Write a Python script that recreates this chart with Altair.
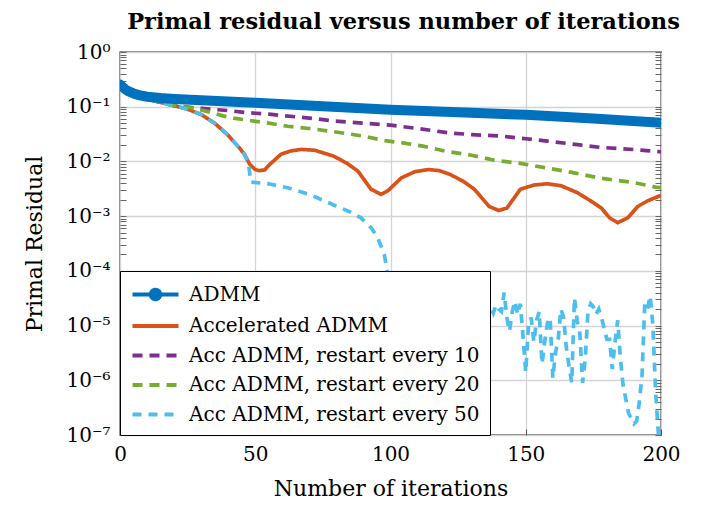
import altair as alt
import pandas as pd

FONT = "DejaVu Serif"

SERIES = ["ADMM", "Accelerated ADMM", "Acc ADMM, restart every 10",
          "Acc ADMM, restart every 20", "Acc ADMM, restart every 50"]
COLORS = ["#0072BD", "#D95319", "#7E2F8E", "#77AC30", "#4DBEEE"]

# ADMM
admm_x = [0, 1, 2, 3, 5, 7, 10, 15, 20, 30, 40, 50, 75, 100, 125, 150, 175, 200]
admm_y = [0.255, 0.228, 0.208, 0.193, 0.175, 0.163, 0.152, 0.144, 0.139, 0.131,
          0.124, 0.118, 0.102, 0.088, 0.079, 0.071, 0.061, 0.051]

# Accelerated ADMM
acc_x = [0, 2, 5, 10, 15, 20, 25, 30, 35, 40, 44, 46, 48, 50, 51.5, 53.5, 55, 59.5,
         63, 67, 72, 79, 84, 88, 92.8, 96.5, 99, 104, 109, 114, 118, 122, 127, 131,
         136.5, 140, 143, 148, 153, 158, 163, 169, 174, 178, 181, 184, 187.7, 191.4,
         195, 200]
acc_y = [0.25, 0.2, 0.17, 0.14, 0.12, 0.105, 0.09, 0.072, 0.05, 0.03, 0.018, 0.0135,
         0.0088, 0.0071, 0.0068, 0.0070, 0.0085, 0.0135, 0.0155, 0.0166, 0.016, 0.0125,
         0.0092, 0.0066, 0.0031, 0.0025, 0.0029, 0.005, 0.0065, 0.0071, 0.0068, 0.0058,
         0.0043, 0.0031, 0.0015, 0.00127, 0.0014, 0.0031, 0.0037, 0.0039, 0.0036,
         0.0027, 0.0019, 0.0014, 0.00093, 0.00076, 0.00093, 0.0015, 0.0019, 0.0024]

# restart every 10
r10_x = [0, 5, 10, 15, 20, 25, 30, 40, 46, 50, 55, 60, 70, 79, 90, 100, 110, 122,
         130, 141, 150, 158, 170, 178, 190, 200]
r10_y = [0.25, 0.17, 0.14, 0.12, 0.105, 0.098, 0.093, 0.085, 0.079, 0.076, 0.073,
         0.069, 0.062, 0.055, 0.05, 0.046, 0.04, 0.033, 0.031, 0.029, 0.026, 0.0235,
         0.02, 0.018, 0.0165, 0.015]

# restart every 20
r20_x = [0, 5, 10, 15, 20, 26, 30, 34, 38, 42, 47, 55, 62, 70, 79, 90, 98, 104, 112,
         120, 130, 138, 148, 157, 167, 178, 190, 198, 200]
r20_y = [0.25, 0.17, 0.14, 0.12, 0.105, 0.096, 0.087, 0.078, 0.068, 0.062, 0.057,
         0.05, 0.044, 0.04, 0.035, 0.029, 0.024, 0.022, 0.019, 0.0155, 0.013, 0.0106,
         0.0092, 0.0077, 0.0063, 0.0049, 0.0041, 0.0034, 0.0033]

# restart every 50
r50_x = [0, 2, 5, 10, 15, 20, 25, 30, 35, 40, 44, 46, 47.5, 48.3, 55, 62, 70, 79, 85,
         89, 93, 95.3, 97.7, 99, 100] + list(range(101, 201))
r50_y = [0.25, 0.2, 0.17, 0.14, 0.12, 0.105, 0.09, 0.072, 0.05, 0.03, 0.018, 0.0135,
         0.0095, 0.0042, 0.0039, 0.0033, 0.0025, 0.0016, 0.0012, 0.00094, 0.0006,
         0.0004, 0.0002, 8.7e-5, 4e-5,
         # 101-134
         2.0e-5, 1.5e-5, 2.4e-5, 1.3e-5, 1.8e-5, 2.6e-5, 1.2e-5, 2.0e-5, 1.6e-5, 2.8e-5,
         1.4e-5, 1.9e-5, 2.3e-5, 1.1e-5, 1.7e-5, 2.5e-5, 1.5e-5, 2.1e-5, 1.3e-5, 2.7e-5,
         1.6e-5, 1.9e-5, 1.2e-5, 2.2e-5, 1.8e-5, 2.6e-5, 1.4e-5, 2.0e-5, 1.6e-5, 2.4e-5,
         1.3e-5, 2.1e-5, 1.7e-5, 2.5e-5,
         # 135-154
         2.4e-5, 1.9e-5, 2.2e-5, 1.7e-5, 2.4e-5, 2.0e-5, 1.8e-5, 4.0e-5, 1.4e-5, 7.9e-6,
         1.8e-5, 2.8e-5, 1.6e-5, 2.5e-5, 6.3e-6, 1.4e-6, 1.0e-5, 1.4e-5, 5.0e-6, 1.25e-5,
         # 155-174
         1.8e-5, 2.0e-6, 5.0e-6, 1.1e-5, 1.4e-5, 1.1e-6, 3.2e-6, 5.6e-6, 2.0e-5, 1.4e-5,
         4.0e-6, 1.8e-6, 9.0e-7, 3.2e-5, 1.25e-5, 7.1e-6, 9.0e-7, 2.5e-6, 1.8e-5, 2.5e-5,
         # 175-200
         2.2e-5, 1.6e-5, 2.0e-5, 1.4e-5, 8.9e-6, 5.6e-6, 5.6e-6, 1.6e-6, 5.0e-6, 1.25e-5,
         2.5e-6, 8.0e-7, 4.5e-7, 2.5e-7, 2.0e-7, 1.6e-7, 1.8e-7, 4.0e-7, 1.25e-6, 2.5e-5,
         2.0e-5, 3.5e-5, 1.0e-5, 6.3e-7, 1.1e-7, 1.05e-7]

Y_MAJOR = [1, 1e-1, 1e-2, 1e-3, 1e-4, 1e-5, 1e-6, 1e-7]
Y_LABELS = ["10⁰", "10⁻¹", "10⁻²", "10⁻³", "10⁻⁴", "10⁻⁵", "10⁻⁶", "10⁻⁷"]
Y_MINOR = [m * d for d in Y_MAJOR[1:] for m in range(2, 10)]
X_TICKS = [0, 50, 100, 150, 200]

rows = []
for name, xs, ys in [(SERIES[1], acc_x, acc_y), (SERIES[2], r10_x, r10_y),
                     (SERIES[3], r20_x, r20_y), (SERIES[4], r50_x, r50_y),
                     (SERIES[0], admm_x, admm_y)]:
    assert len(xs) == len(ys), name
    for a, b in zip(xs, ys):
        rows.append({"series": name, "it": a, "res": b})
df = pd.DataFrame(rows)

is_major = "abs(log(datum.value)/LN10 - round(log(datum.value)/LN10)) < 0.001"
label_arr = "[" + ",".join("'" + s + "'" for s in Y_LABELS) + "]"
label_expr = f"({is_major}) ? {label_arr}[-round(log(datum.value)/LN10)] : ''"

yscale = alt.Scale(type="log", domain=[1e-7, 1], nice=False)
xscale = alt.Scale(domain=[0, 200], nice=False)

LINE_SYM = "M-2,0L2,0"
ADMM_SYM = "M-2,0L2,0M0.42,0A0.42,0.42,0,1,1,-0.42,0A0.42,0.42,0,1,1,0.42,0Z"

legend = alt.Legend(
    title=None, orient="bottom-left", offset=0, padding=10,
    fillColor="white", strokeColor="black", cornerRadius=0,
    labelFont=FONT, labelFontSize=20, labelColor="black", labelLimit=0,
    symbolType=LINE_SYM, symbolSize=529, symbolStrokeWidth=3.8,
    symbolOffset=12, labelOffset=20, rowPadding=5.5, symbolOpacity=1,
)

xaxis = alt.Axis(values=X_TICKS, grid=True, gridColor="#d4d4d4", gridWidth=1.3,
                 domain=False, tickSize=6, offset=-6, tickColor="#555",
                 labelPadding=9, labelFont=FONT, labelFontSize=20,
                 labelColor="black", titleFont=FONT, titleFontSize=22,
                 titleFontWeight="normal", titleColor="black",
                 titlePadding=14, labelFlush=False, title="Number of iterations")

color = alt.Color("series:N", scale=alt.Scale(domain=SERIES, range=COLORS), legend=legend)

others = alt.Chart(df[df.series != "ADMM"]).mark_line(
    clip=True, strokeCap="butt", strokeWidth=3.7).encode(
    x=alt.X("it:Q", scale=xscale, axis=xaxis),
    y=alt.Y("res:Q", scale=yscale, title="Primal Residual",
            axis=alt.Axis(values=Y_MAJOR + Y_MINOR, labelExpr=label_expr,
                          labelOverlap=False, grid=True, gridColor="#d4d4d4",
                          gridWidth=1.3,
                          gridOpacity={"condition": {"test": is_major, "value": 1}, "value": 0},
                          domain=False, tickSize=6, offset=-6, tickColor="#666",
                          labelPadding=10, labelFont=FONT, labelFontSize=20,
                          labelColor="black", titleFont=FONT, titleFontSize=22,
                          titleFontWeight="normal", titleColor="black",
                          titlePadding=19, labelFlush=False)),
    color=color,
    strokeDash=alt.StrokeDash("series:N", scale=alt.Scale(
        domain=SERIES, range=[[1, 0], [1, 0], [10, 7], [10, 7], [9, 7]]), legend=legend),
)

admm = alt.Chart(df[df.series == "ADMM"]).mark_line(
    clip=True, strokeCap="round", strokeJoin="round", strokeWidth=10,
    color=COLORS[0]).encode(
    x=alt.X("it:Q", scale=xscale, axis=xaxis),
    y=alt.Y("res:Q", scale=yscale, title=None,
            axis=alt.Axis(orient="right", values=Y_MAJOR + Y_MINOR, labels=False,
                          grid=False, domain=False, tickSize=6, offset=-6,
                          tickColor="#666", title=None)),
)

# legend symbols (line with a round marker for ADMM); this layer draws no data
legend_pts = alt.Chart(df).transform_filter("false").mark_point(
    filled=True, opacity=1).encode(
    x=alt.X("it:Q", scale=xscale, axis=xaxis),
    y=alt.Y("res:Q", scale=yscale, axis=None),
    color=color,
    shape=alt.Shape("series:N", scale=alt.Scale(
        domain=SERIES, range=[ADMM_SYM, LINE_SYM, LINE_SYM, LINE_SYM, LINE_SYM]),
        legend=legend),
)

chart = alt.layer(others, admm, legend_pts).resolve_axis(y="independent").properties(
    width=541, height=383,
    padding={"left": 15, "top": 2, "right": 5, "bottom": 5},
    title=alt.TitleParams("Primal residual versus number of iterations", font=FONT,
                          fontSize=22.5, fontWeight="bold", color="black",
                          anchor="middle", frame="group", dx=13, offset=9),
).configure_view(stroke="black", strokeWidth=1.3)

chart.save("out.html", embed_options={"renderer": "svg", "actions": False})
